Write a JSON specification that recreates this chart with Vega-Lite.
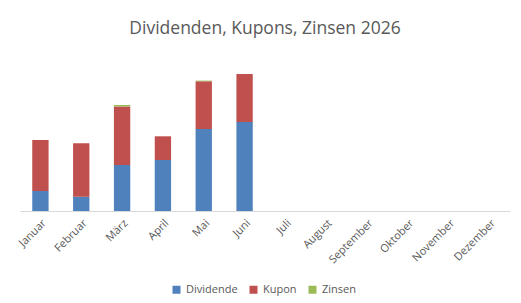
{
  "$schema": "https://vega.github.io/schema/vega-lite/v6.json",
  "width": 490,
  "height": 146,
  "autosize": {"type": "none"},
  "padding": {"left": 20, "top": 65, "right": 11, "bottom": 92},
  "background": "white",
  "title": {
    "text": "Dividenden, Kupons, Zinsen 2026",
    "font": "Open Sans",
    "fontSize": 17.5,
    "fontWeight": "normal",
    "color": "#595959",
    "anchor": "middle",
    "offset": 28
  },
  "config": {
    "view": {"stroke": null},
    "font": "Open Sans"
  },
  "data": {
    "values": [
      {"Monat": "Januar", "Art": "Dividende", "Wert": 20},
      {"Monat": "Januar", "Art": "Kupon", "Wert": 51},
      {"Monat": "Februar", "Art": "Dividende", "Wert": 14.3},
      {"Monat": "Februar", "Art": "Kupon", "Wert": 53.4},
      {"Monat": "März", "Art": "Dividende", "Wert": 46},
      {"Monat": "März", "Art": "Kupon", "Wert": 58.5},
      {"Monat": "März", "Art": "Zinsen", "Wert": 1.5},
      {"Monat": "April", "Art": "Dividende", "Wert": 51},
      {"Monat": "April", "Art": "Kupon", "Wert": 23.7},
      {"Monat": "Mai", "Art": "Dividende", "Wert": 82},
      {"Monat": "Mai", "Art": "Kupon", "Wert": 47.7},
      {"Monat": "Mai", "Art": "Zinsen", "Wert": 0.7},
      {"Monat": "Juni", "Art": "Dividende", "Wert": 89},
      {"Monat": "Juni", "Art": "Kupon", "Wert": 48}
    ]
  },
  "mark": {"type": "bar"},
  "encoding": {
    "x": {
      "field": "Monat",
      "type": "nominal",
      "scale": {
        "domain": ["Januar", "Februar", "März", "April", "Mai", "Juni", "Juli", "August", "September", "Oktober", "November", "Dezember"],
        "paddingInner": 0.6,
        "paddingOuter": 0.3
      },
      "axis": {
        "title": null,
        "labelAngle": -45,
        "labelAlign": "right",
        "labelBaseline": "top",
        "labelFontSize": 11,
        "labelColor": "#595959",
        "labelFont": "Open Sans",
        "ticks": false,
        "labelPadding": 6,
        "domainColor": "#D9D9D9",
        "domainWidth": 1,
        "grid": false
      }
    },
    "y": {
      "field": "Wert",
      "type": "quantitative",
      "aggregate": "sum",
      "stack": "zero",
      "scale": {"domain": [0, 146], "nice": false},
      "axis": null
    },
    "order": {"field": "Art", "type": "nominal", "sort": "ascending"},
    "color": {
      "field": "Art",
      "type": "nominal",
      "scale": {
        "domain": ["Dividende", "Kupon", "Zinsen"],
        "range": ["#4F81BD", "#C0504D", "#9BBB59"]
      },
      "legend": {
        "title": null,
        "orient": "none",
        "legendX": 151,
        "legendY": 219,
        "direction": "horizontal",
        "symbolType": "square",
        "symbolSize": 64,
        "symbolStrokeWidth": 0,
        "labelFontSize": 11,
        "labelColor": "#595959",
        "labelFont": "Open Sans",
        "columnPadding": 10
      }
    }
  }
}
